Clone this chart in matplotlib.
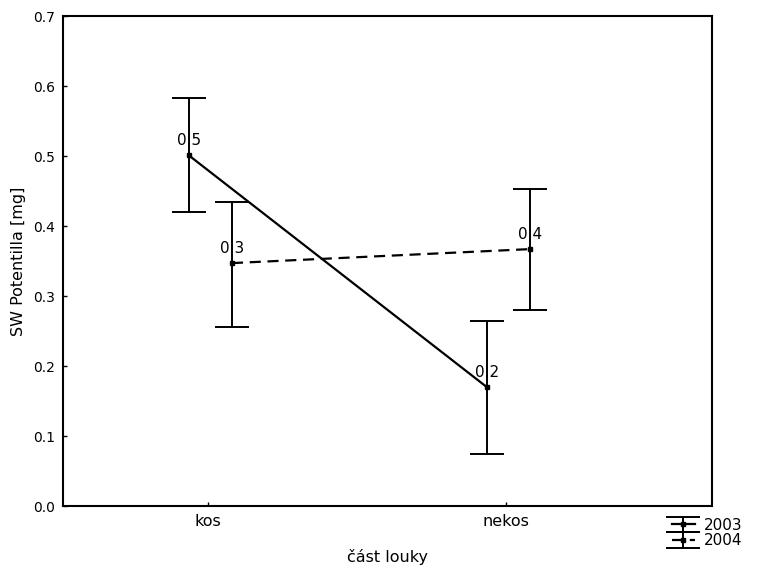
import matplotlib
matplotlib.use("Agg")
import matplotlib.pyplot as plt

categories = ["kos", "nekos"]
years = ["2003", "2004"]
mean_2003 = [0.501, 0.170]
upper_2003 = [0.583, 0.264]
lower_2003 = [0.420, 0.074]
mean_2004 = [0.347, 0.367]
upper_2004 = [0.434, 0.453]
lower_2004 = [0.256, 0.280]
point_labels_2003 = ["0.5", "0.2"]
point_labels_2004 = ["0.3", "0.4"]
yticks = [0.0, 0.1, 0.2, 0.3, 0.4, 0.5, 0.6, 0.7]

plt.rcParams['font.family'] = ['DejaVu Sans']
fig = plt.figure(figsize=(7.59, 5.71), dpi=100)
ax = fig.add_axes([63/759, 1-506/571, (712-63)/759, (506-16)/571])

x = [0, 1]
off03, off04 = -0.065, 0.08
series = [
    (mean_2003, upper_2003, lower_2003, off03, '-', point_labels_2003, "2003"),
    (mean_2004, upper_2004, lower_2004, off04, '--', point_labels_2004, "2004"),
]
handles = []
for m, u, l, off, ls, labs, yr in series:
    xs = [xi + off for xi in x]
    yerr = [[mi - li for mi, li in zip(m, l)], [ui - mi for mi, ui in zip(m, u)]]
    c = ax.errorbar(xs, m, yerr=yerr, fmt='s', ms=3, color='black', ecolor='black',
                    elinewidth=1.4, capsize=12, capthick=1.4, linestyle=ls, linewidth=1.6,
                    dashes=(5, 3) if ls == '--' else (None, None), label=yr)
    handles.append(c)
    for xi, mi, t in zip(xs, m, labs):
        ax.annotate(t, (xi, mi), xytext=(0, 5), textcoords='offset points',
                    ha='center', va='bottom', fontsize=11)

ax.set_xlim(-0.487, 1.691)
ax.set_ylim(0, 0.7)
ax.set_xticks(x)
ax.set_xticklabels(categories, fontsize=11.5)
ax.set_yticks(yticks)
ax.set_yticklabels([f"{v:.1f}" for v in yticks], fontsize=10)
ax.tick_params(direction='in', length=3, width=1, pad=6)
for s in ax.spines.values():
    s.set_linewidth(1.5)
ax.set_ylabel("SW Potentilla [mg]", fontsize=11.5, labelpad=5)
ax.set_xlabel("část louky", fontsize=11.5, labelpad=14)

fig.legend(handles=handles, labels=years, loc='upper left',
           bbox_to_anchor=(664/759, 1-510/571), frameon=False, fontsize=11,
           handlelength=1.5, handletextpad=0.6, labelspacing=0.05, borderpad=0)

fig.savefig("out.png", dpi=100)
